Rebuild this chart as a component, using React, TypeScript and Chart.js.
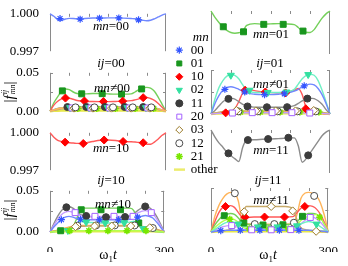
import React, { useEffect, useRef } from 'react';
import { Chart, registerables } from 'chart.js';

Chart.register(...registerables);

const SERIF = "'Liberation Serif', 'DejaVu Serif', 'Times New Roman', serif";

// ---------------- data ----------------
const tGrid = [0, 10, 20, 30, 40, 50, 60, 70, 80, 90, 110, 130, 150, 170, 190, 210, 220, 230, 240, 250, 260, 270, 280, 290, 300];
const xLabelTicks = [0, 300];
const xMinorTicks = [50, 100, 150, 200, 250];
const diagYTicks = [0.997, 1.0];
const diagYLabels = ['0.997', '1.000'];
const offYTicks = [0, 0.025, 0.05];
const offYLabels = ['0.00', '', '0.05'];
const legendNames = ['00', '01', '10', '02', '11', '20', '03', '12', '21', 'other'];

// diagonal panels (|f^ij_mn| with mn = ij)
const d00 = [1.0, 0.9998, 0.99955, 0.9995, 0.99958, 0.99963, 0.99962, 0.9996, 0.99958, 0.99962, 0.99966, 0.99966, 0.99967, 0.99967, 0.99965, 0.99962, 0.9996, 0.99955, 0.99948, 0.99944, 0.99948, 0.9996, 0.99975, 0.9999, 1.0];
const d00mx = [26, 78, 128, 178, 229];
const d00my = [0.99962, 0.99957, 0.99965, 0.99967, 0.99952];

const d01 = [1.0, 0.99955, 0.9992, 0.9989, 0.99865, 0.9985, 0.99845, 0.99848, 0.9986, 0.999, 0.99912, 0.99908, 0.9991, 0.99912, 0.9991, 0.99905, 0.99885, 0.9986, 0.99852, 0.9985, 0.9987, 0.9991, 0.9995, 0.9998, 1.0];
const d01mx = [31, 82, 133, 182, 232];
const d01my = [0.9989, 0.99855, 0.99907, 0.99907, 0.9986];

const d10 = [1.0, 0.99965, 0.9994, 0.9993, 0.99925, 0.9992, 0.99918, 0.99915, 0.99914, 0.99918, 0.9993, 0.9994, 0.99942, 0.99938, 0.9993, 0.99928, 0.99926, 0.99922, 0.99918, 0.99908, 0.99908, 0.99925, 0.9995, 0.9998, 1.0];
const d10mx = [39, 86, 140, 189, 241];
const d10my = [0.99925, 0.99914, 0.99942, 0.9993, 0.9992];

const d11 = [1.0, 0.9995, 0.9991, 0.9988, 0.99845, 0.9982, 0.998, 0.9978, 0.9988, 0.9993, 0.99932, 0.99935, 0.99937, 0.9994, 0.99943, 0.99945, 0.9989, 0.99775, 0.998, 0.9984, 0.9988, 0.9992, 0.9996, 0.99985, 1.0];
const d11mx = [44, 93, 144, 195, 245];
const d11my = [0.99837, 0.9993, 0.99937, 0.99946, 0.99823];

// ij = 00, mn != 00
const o00_01 = [0, 0.011, 0.019, 0.026, 0.029, 0.028, 0.025, 0.023, 0.0225, 0.0225, 0.023, 0.023, 0.0225, 0.0222, 0.0222, 0.0225, 0.025, 0.028, 0.03, 0.031, 0.03, 0.026, 0.018, 0.009, 0];
const o00_01mx = [32, 82, 135, 185, 237];
const o00_01my = [0.0265, 0.0226, 0.0228, 0.0222, 0.029];
const o00_10 = [0, 0.008, 0.013, 0.016, 0.0172, 0.0168, 0.0155, 0.014, 0.0133, 0.013, 0.0126, 0.0125, 0.0125, 0.0127, 0.013, 0.0138, 0.0148, 0.016, 0.0175, 0.0178, 0.0165, 0.014, 0.01, 0.005, 0];
const o00_10mx = [40, 89, 138, 188, 241];
const o00_10my = [0.0171, 0.0133, 0.0126, 0.0131, 0.0176];
const o00_11 = [0, 0.002, 0.0035, 0.0045, 0.005, 0.0052, 0.0054, 0.0055, 0.0055, 0.0055, 0.0055, 0.0055, 0.0055, 0.0055, 0.0055, 0.0055, 0.0055, 0.0055, 0.0054, 0.0052, 0.005, 0.0042, 0.0032, 0.0017, 0];
const o00_11mx = [45, 94, 142, 193, 241];
const o00_11my = [0.0054, 0.0055, 0.0055, 0.0055, 0.0054];
const o00_02 = [0, 0.0015, 0.003, 0.0038, 0.0042, 0.0044, 0.0045, 0.0045, 0.0045, 0.0045, 0.0045, 0.0045, 0.0045, 0.0045, 0.0045, 0.0045, 0.0045, 0.0045, 0.0045, 0.0044, 0.0042, 0.0036, 0.0027, 0.0014, 0];
const o00_02mx = [52, 101, 149, 200, 248];
const o00_02my = [0.0046, 0.0046, 0.0046, 0.0046, 0.0046];
const o00_20 = [0, 0.0012, 0.0025, 0.0033, 0.0037, 0.004, 0.0041, 0.0042, 0.0042, 0.0042, 0.0042, 0.0042, 0.0042, 0.0042, 0.0042, 0.0042, 0.0042, 0.0042, 0.0041, 0.004, 0.0037, 0.0032, 0.0024, 0.0012, 0];
const o00_20mx = [57, 106, 154, 205, 253];
const o00_20my = [0.0042, 0.0042, 0.0042, 0.0042, 0.0042];
const o00_03 = [0, 0.001, 0.002, 0.003, 0.0035, 0.0038, 0.0039, 0.004, 0.004, 0.004, 0.004, 0.004, 0.004, 0.004, 0.004, 0.004, 0.004, 0.004, 0.0039, 0.0038, 0.0035, 0.003, 0.0022, 0.0011, 0];
const o00_03mx = [62, 111, 159, 210, 258];
const o00_03my = [0.004, 0.004, 0.004, 0.004, 0.004];
const o00_12 = [0, 0.0016, 0.0032, 0.0042, 0.0047, 0.005, 0.005, 0.005, 0.005, 0.005, 0.005, 0.005, 0.005, 0.005, 0.005, 0.005, 0.005, 0.005, 0.005, 0.005, 0.0047, 0.004, 0.003, 0.0016, 0];
const o00_12mx = [66, 115, 163, 214, 262];
const o00_12my = [0.005, 0.005, 0.005, 0.005, 0.005];
const o00_21 = [0, 0.0011, 0.0022, 0.003, 0.0033, 0.0035, 0.0035, 0.0035, 0.0035, 0.0035, 0.0035, 0.0035, 0.0035, 0.0035, 0.0035, 0.0035, 0.0035, 0.0035, 0.0035, 0.0035, 0.0033, 0.0028, 0.0021, 0.0011, 0];
const o00_21mx = [72, 121, 169, 220, 268];
const o00_21my = [0.0035, 0.0035, 0.0035, 0.0035, 0.0035];
const o00_other = [0, 0.0005, 0.0007, 0.0008, 0.0008, 0.0008, 0.0008, 0.0008, 0.0008, 0.0008, 0.0008, 0.0008, 0.0008, 0.0008, 0.0008, 0.0008, 0.0008, 0.0008, 0.0008, 0.0008, 0.0008, 0.0008, 0.0007, 0.0005, 0];

// ij = 01, mn != 01
const o01_02 = [0, 0.017, 0.03, 0.038, 0.043, 0.045, 0.044, 0.04, 0.033, 0.027, 0.0245, 0.0245, 0.0245, 0.0245, 0.025, 0.028, 0.034, 0.04, 0.044, 0.045, 0.044, 0.038, 0.027, 0.014, 0];
const o01_02mx = [50, 97, 143, 190, 245];
const o01_02my = [0.044, 0.027, 0.0245, 0.025, 0.0448];
const o01_00 = [0, 0.012, 0.021, 0.027, 0.03, 0.031, 0.03, 0.028, 0.026, 0.024, 0.0225, 0.022, 0.022, 0.0225, 0.0235, 0.026, 0.028, 0.031, 0.033, 0.034, 0.033, 0.029, 0.022, 0.012, 0];
const o01_00mx = [35, 85, 135, 185, 235];
const o01_00my = [0.028, 0.025, 0.022, 0.023, 0.032];
const o01_10 = [0, 0.0005, 0.001, 0.0013, 0.0016, 0.0025, 0.006, 0.014, 0.024, 0.028, 0.0265, 0.025, 0.0245, 0.024, 0.0245, 0.027, 0.029, 0.022, 0.007, 0.004, 0.002, 0.001, 0.0005, 0.0002, 0];
const o01_10mx = [37, 86, 137, 188, 239];
const o01_10my = [0.0013, 0.027, 0.025, 0.024, 0.006];
const o01_11 = [0, 0.004, 0.009, 0.014, 0.017, 0.018, 0.017, 0.014, 0.011, 0.0088, 0.0078, 0.0077, 0.0077, 0.0077, 0.008, 0.0095, 0.012, 0.015, 0.017, 0.018, 0.0175, 0.015, 0.011, 0.005, 0];
const o01_11mx = [44, 92, 141, 192, 243];
const o01_11my = [0.0172, 0.0086, 0.0077, 0.0078, 0.0175];
const o01_20 = [0, 0.0004, 0.0007, 0.0009, 0.001, 0.0011, 0.0012, 0.0013, 0.0014, 0.0015, 0.0015, 0.0015, 0.0015, 0.0015, 0.0015, 0.0015, 0.0014, 0.0013, 0.0012, 0.0011, 0.001, 0.0009, 0.0007, 0.0004, 0];
const o01_20mx = [54, 104, 154, 204, 249];
const o01_20my = [0.0011, 0.0015, 0.0015, 0.0015, 0.0011];
const o01_03 = [0, 0.001, 0.002, 0.003, 0.0036, 0.004, 0.004, 0.0038, 0.0036, 0.0035, 0.0035, 0.0035, 0.0035, 0.0035, 0.0035, 0.0035, 0.0036, 0.0038, 0.004, 0.004, 0.0036, 0.003, 0.002, 0.001, 0];
const o01_03mx = [64, 113, 163, 213, 259];
const o01_03my = [0.004, 0.0035, 0.0035, 0.0035, 0.004];
const o01_12 = [0, 0.0008, 0.0016, 0.0024, 0.0028, 0.003, 0.003, 0.003, 0.003, 0.003, 0.003, 0.003, 0.003, 0.003, 0.003, 0.003, 0.003, 0.003, 0.003, 0.003, 0.0028, 0.0024, 0.0016, 0.0008, 0];
const o01_12mx = [69, 118, 168, 218, 264];
const o01_12my = [0.003, 0.003, 0.003, 0.003, 0.003];
const o01_21 = [0, 0.0006, 0.0012, 0.0017, 0.002, 0.0022, 0.0022, 0.0022, 0.0022, 0.0022, 0.0022, 0.0022, 0.0022, 0.0022, 0.0022, 0.0022, 0.0022, 0.0022, 0.0022, 0.0022, 0.002, 0.0017, 0.0012, 0.0006, 0];
const o01_21mx = [74, 124, 174, 224, 272];
const o01_21my = [0.0022, 0.0022, 0.0022, 0.0022, 0.0022];
const o01_other = [0, 0.0005, 0.0007, 0.0008, 0.0008, 0.0008, 0.0008, 0.0008, 0.0008, 0.0008, 0.0008, 0.0008, 0.0008, 0.0008, 0.0008, 0.0008, 0.0008, 0.0008, 0.0008, 0.0008, 0.0008, 0.0008, 0.0007, 0.0005, 0];

// ij = 10, mn != 10
const o10_11 = [0, 0.01, 0.019, 0.026, 0.03, 0.031, 0.029, 0.025, 0.021, 0.0195, 0.0185, 0.018, 0.018, 0.018, 0.0185, 0.0195, 0.022, 0.026, 0.029, 0.031, 0.03, 0.026, 0.019, 0.01, 0];
const o10_11mx = [43, 95, 147, 197, 250];
const o10_11my = [0.03, 0.0195, 0.018, 0.0182, 0.031];
const o10_20 = [0, 0.008, 0.015, 0.021, 0.024, 0.025, 0.024, 0.022, 0.02, 0.0192, 0.019, 0.019, 0.019, 0.019, 0.019, 0.0195, 0.021, 0.023, 0.025, 0.026, 0.025, 0.022, 0.016, 0.008, 0];
const o10_20mx = [66, 118, 168, 218, 266];
const o10_20my = [0.0235, 0.019, 0.019, 0.019, 0.0235];
const o10_00 = [0, 0.006, 0.011, 0.015, 0.018, 0.019, 0.018, 0.0165, 0.0155, 0.015, 0.0148, 0.0148, 0.0148, 0.0148, 0.015, 0.0155, 0.0165, 0.018, 0.019, 0.02, 0.019, 0.017, 0.012, 0.006, 0];
const o10_00mx = [30, 80, 130, 180, 230];
const o10_00my = [0.015, 0.0155, 0.0148, 0.0148, 0.018];
const o10_01 = [0, 0.0005, 0.001, 0.0015, 0.002, 0.003, 0.006, 0.016, 0.027, 0.029, 0.029, 0.029, 0.029, 0.029, 0.029, 0.029, 0.026, 0.014, 0.005, 0.002, 0.0015, 0.001, 0.0005, 0.0002, 0];
const o10_01mx = [28, 82, 134, 185, 233];
const o10_01my = [0.0015, 0.027, 0.027, 0.027, 0.011];
const o10_02 = [0, 0.0005, 0.001, 0.0015, 0.002, 0.003, 0.005, 0.01, 0.013, 0.012, 0.0115, 0.011, 0.011, 0.011, 0.0115, 0.012, 0.013, 0.01, 0.005, 0.003, 0.002, 0.0015, 0.001, 0.0005, 0];
const o10_02mx = [47, 95, 145, 195, 245];
const o10_02my = [0.0018, 0.012, 0.011, 0.0112, 0.004];
const o10_03 = [0, 0.001, 0.002, 0.003, 0.004, 0.005, 0.006, 0.0065, 0.007, 0.007, 0.0072, 0.0072, 0.0072, 0.0072, 0.0072, 0.0072, 0.007, 0.0068, 0.0065, 0.006, 0.005, 0.004, 0.003, 0.0015, 0];
const o10_03mx = [67, 117, 162, 212, 262];
const o10_03my = [0.0065, 0.0072, 0.0072, 0.0072, 0.0052];
const o10_12 = [0, 0.0012, 0.0025, 0.0038, 0.005, 0.006, 0.007, 0.0075, 0.0078, 0.008, 0.008, 0.008, 0.008, 0.008, 0.008, 0.008, 0.0078, 0.0075, 0.007, 0.0065, 0.0058, 0.0048, 0.0035, 0.0018, 0];
const o10_12mx = [72, 121, 170, 222, 270];
const o10_12my = [0.0076, 0.008, 0.008, 0.0079, 0.0048];
const o10_21 = [0, 0.0005, 0.001, 0.0013, 0.0015, 0.0016, 0.0016, 0.0016, 0.0016, 0.0016, 0.0016, 0.0016, 0.0016, 0.0016, 0.0016, 0.0016, 0.0016, 0.0016, 0.0016, 0.0016, 0.0015, 0.0013, 0.001, 0.0005, 0];
const o10_21mx = [52, 102, 152, 202, 252];
const o10_21my = [0.0016, 0.0016, 0.0016, 0.0016, 0.0016];
const o10_other = [0, 0.0005, 0.0007, 0.0008, 0.0008, 0.0008, 0.0008, 0.0008, 0.0008, 0.0008, 0.0008, 0.0008, 0.0008, 0.0008, 0.0008, 0.0008, 0.0008, 0.0008, 0.0008, 0.0008, 0.0008, 0.0008, 0.0007, 0.0005, 0];

// ij = 11, mn != 11
const o11_12 = [0, 0.018, 0.03, 0.038, 0.043, 0.045, 0.044, 0.035, 0.012, 0.0095, 0.009, 0.009, 0.009, 0.009, 0.009, 0.0095, 0.02, 0.038, 0.044, 0.045, 0.044, 0.041, 0.033, 0.019, 0];
const o11_12mx = [61, 112, 162, 212, 264];
const o11_12my = [0.044, 0.009, 0.009, 0.0105, 0.041];
const o11_10 = [0, 0.012, 0.022, 0.028, 0.03, 0.03, 0.028, 0.022, 0.017, 0.0165, 0.017, 0.017, 0.017, 0.017, 0.017, 0.0175, 0.022, 0.027, 0.029, 0.03, 0.029, 0.026, 0.02, 0.011, 0];
const o11_10mx = [37, 87, 137, 188, 240];
const o11_10my = [0.029, 0.0168, 0.017, 0.017, 0.029];
const o11_01 = [0, 0.008, 0.014, 0.018, 0.02, 0.021, 0.02, 0.016, 0.011, 0.009, 0.0085, 0.008, 0.008, 0.008, 0.0085, 0.009, 0.012, 0.016, 0.019, 0.021, 0.021, 0.02, 0.016, 0.009, 0];
const o11_01mx = [34, 84, 133, 184, 234];
const o11_01my = [0.0185, 0.0102, 0.008, 0.0082, 0.0178];
const o11_21 = [0, 0.005, 0.009, 0.012, 0.014, 0.015, 0.014, 0.011, 0.006, 0.004, 0.0035, 0.0035, 0.0035, 0.0035, 0.0035, 0.004, 0.008, 0.013, 0.016, 0.018, 0.019, 0.02, 0.016, 0.009, 0];
const o11_21mx = [48, 98, 148, 198, 278];
const o11_21my = [0.0145, 0.0038, 0.0035, 0.0035, 0.0168];
const o11_03 = [0, 0.0005, 0.001, 0.0015, 0.002, 0.003, 0.005, 0.01, 0.018, 0.029, 0.029, 0.029, 0.029, 0.029, 0.029, 0.026, 0.014, 0.005, 0.003, 0.002, 0.0015, 0.001, 0.0005, 0.0002, 0];
const o11_03mx = [85, 154, 209, 269];
const o11_03my = [0.023, 0.029, 0.024, 0.0008];
const o11_20 = [0, 0.002, 0.004, 0.006, 0.007, 0.0075, 0.007, 0.005, 0.003, 0.0025, 0.0025, 0.0025, 0.0025, 0.0025, 0.0025, 0.003, 0.005, 0.009, 0.013, 0.016, 0.017, 0.015, 0.011, 0.006, 0];
const o11_20mx = [53, 104, 154, 204, 254];
const o11_20my = [0.0073, 0.0025, 0.0025, 0.0027, 0.0165];
const o11_02 = [0, 0.003, 0.006, 0.009, 0.011, 0.012, 0.011, 0.009, 0.007, 0.006, 0.0058, 0.0058, 0.0058, 0.0058, 0.0058, 0.006, 0.007, 0.009, 0.011, 0.012, 0.011, 0.009, 0.006, 0.003, 0];
const o11_02mx = [70, 120, 170, 220, 270];
const o11_02my = [0.009, 0.0058, 0.0058, 0.007, 0.009];
const o11_00 = [0, 0.0008, 0.0012, 0.0015, 0.0018, 0.002, 0.002, 0.002, 0.002, 0.002, 0.002, 0.002, 0.002, 0.002, 0.002, 0.002, 0.002, 0.002, 0.002, 0.002, 0.0018, 0.0015, 0.0012, 0.0008, 0];
const o11_00mx = [25, 75, 125, 175, 225];
const o11_00my = [0.0015, 0.002, 0.002, 0.002, 0.002];
const o11_other = [0, 0.0005, 0.0007, 0.0008, 0.0008, 0.0008, 0.0008, 0.0008, 0.0008, 0.0008, 0.0008, 0.0008, 0.0008, 0.0008, 0.0008, 0.0008, 0.0008, 0.0008, 0.0008, 0.0008, 0.0008, 0.0008, 0.0007, 0.0005, 0];

// ---------------- styles ----------------
const OTHER_COLOR = '#e8e84a';
const STYLE: Record<string, any> = {
  '00': { line: '#7088ff', mark: '#3355ff', fill: '#3355ff', ps: 'star', r: 3.5, rot: 0, bw: 1.2 },
  '01': { line: '#74d05a', mark: '#19961e', fill: '#19961e', ps: 'rect', r: 4.2, rot: 0, bw: 1 },
  '10': { line: '#ff5a5a', mark: '#ff0000', fill: '#ff0000', ps: 'rectRot', r: 4, rot: 0, bw: 1 },
  '02': { line: '#6ff0c4', mark: '#33e0a0', fill: '#33e0a0', ps: 'triangle', r: 4, rot: 180, bw: 1 },
  '11': { line: '#8c8c8c', mark: '#3c3c3c', fill: '#3c3c3c', ps: 'circle', r: 3.5, rot: 0, bw: 1 },
  '20': { line: '#c59cff', mark: '#a461ff', fill: '#ffffff', ps: 'rect', r: 4.2, rot: 0, bw: 1 },
  '03': { line: '#c8aa6a', mark: '#9a7a28', fill: '#ffffff', ps: 'rectRot', r: 4, rot: 0, bw: 1 },
  '12': { line: '#ffb45a', mark: '#4a4a4a', fill: '#ffffff', ps: 'circle', r: 3.5, rot: 0, bw: 1 },
  '21': { line: '#b4ff50', mark: '#78e600', fill: '#78e600', ps: 'star', r: 3.5, rot: 0, bw: 1.6 },
};

type Series = { k: string; y: number[]; mx: number[]; my: number[] };
type PanelDef = { col: 'L' | 'R'; top: number; bottom: number; diag: boolean; showX: boolean; series: Series[]; other?: number[] };

const panels: PanelDef[] = [
  { col: 'L', top: 11, bottom: 54, diag: true, showX: false, series: [{ k: '00', y: d00, mx: d00mx, my: d00my }] },
  { col: 'R', top: 11, bottom: 54, diag: true, showX: false, series: [{ k: '01', y: d01, mx: d01mx, my: d01my }] },
  {
    col: 'L', top: 70, bottom: 114, diag: false, showX: false, other: o00_other, series: [
      { k: '12', y: o00_12, mx: o00_12mx, my: o00_12my },
      { k: '03', y: o00_03, mx: o00_03mx, my: o00_03my },
      { k: '20', y: o00_20, mx: o00_20mx, my: o00_20my },
      { k: '02', y: o00_02, mx: o00_02mx, my: o00_02my },
      { k: '21', y: o00_21, mx: o00_21mx, my: o00_21my },
      { k: '11', y: o00_11, mx: o00_11mx, my: o00_11my },
      { k: '10', y: o00_10, mx: o00_10mx, my: o00_10my },
      { k: '01', y: o00_01, mx: o00_01mx, my: o00_01my },
    ],
  },
  {
    col: 'R', top: 70, bottom: 114, diag: false, showX: false, other: o01_other, series: [
      { k: '20', y: o01_20, mx: o01_20mx, my: o01_20my },
      { k: '03', y: o01_03, mx: o01_03mx, my: o01_03my },
      { k: '12', y: o01_12, mx: o01_12mx, my: o01_12my },
      { k: '21', y: o01_21, mx: o01_21mx, my: o01_21my },
      { k: '11', y: o01_11, mx: o01_11mx, my: o01_11my },
      { k: '00', y: o01_00, mx: o01_00mx, my: o01_00my },
      { k: '02', y: o01_02, mx: o01_02mx, my: o01_02my },
      { k: '10', y: o01_10, mx: o01_10mx, my: o01_10my },
    ],
  },
  { col: 'L', top: 130, bottom: 173, diag: true, showX: false, series: [{ k: '10', y: d10, mx: d10mx, my: d10my }] },
  { col: 'R', top: 130, bottom: 173, diag: true, showX: false, series: [{ k: '11', y: d11, mx: d11mx, my: d11my }] },
  {
    col: 'L', top: 188, bottom: 232, diag: false, showX: true, other: o10_other, series: [
      { k: '21', y: o10_21, mx: o10_21mx, my: o10_21my },
      { k: '03', y: o10_03, mx: o10_03mx, my: o10_03my },
      { k: '12', y: o10_12, mx: o10_12mx, my: o10_12my },
      { k: '02', y: o10_02, mx: o10_02mx, my: o10_02my },
      { k: '00', y: o10_00, mx: o10_00mx, my: o10_00my },
      { k: '20', y: o10_20, mx: o10_20mx, my: o10_20my },
      { k: '01', y: o10_01, mx: o10_01mx, my: o10_01my },
      { k: '11', y: o10_11, mx: o10_11mx, my: o10_11my },
    ],
  },
  {
    col: 'R', top: 188, bottom: 232, diag: false, showX: true, other: o11_other, series: [
      { k: '00', y: o11_00, mx: o11_00mx, my: o11_00my },
      { k: '02', y: o11_02, mx: o11_02mx, my: o11_02my },
      { k: '20', y: o11_20, mx: o11_20mx, my: o11_20my },
      { k: '21', y: o11_21, mx: o11_21mx, my: o11_21my },
      { k: '01', y: o11_01, mx: o11_01mx, my: o11_01my },
      { k: '03', y: o11_03, mx: o11_03mx, my: o11_03my },
      { k: '10', y: o11_10, mx: o11_10mx, my: o11_10my },
      { k: '12', y: o11_12, mx: o11_12mx, my: o11_12my },
    ],
  },
];

// ---------------- plugin: frame with inward ticks ----------------
const framePlugin = {
  id: 'frame',
  beforeDatasetsDraw(chart: any, _args: any, opts: any) {
    const { ctx, chartArea: a, scales } = chart;
    ctx.save();
    ctx.strokeStyle = '#8a8a8a';
    ctx.lineWidth = 1;
    ctx.beginPath();
    const L = Math.round(a.left) + 0.5;
    const R = Math.round(a.right) - 0.5;
    ctx.moveTo(L, a.top);
    ctx.lineTo(L, a.bottom);
    ctx.moveTo(R, a.top);
    ctx.lineTo(R, a.bottom);
    if (opts.bottomLine) {
      ctx.moveTo(a.left, Math.round(a.bottom) - 0.5);
      ctx.lineTo(a.right, Math.round(a.bottom) - 0.5);
    }
    for (const v of opts.xTicks || []) {
      const x = Math.round(scales.x.getPixelForValue(v)) + 0.5;
      ctx.moveTo(x, a.top);
      ctx.lineTo(x, a.top + 3);
    }
    for (const v of opts.yTicks || []) {
      const y = Math.round(scales.y.getPixelForValue(v)) + 0.5;
      ctx.moveTo(a.left, y);
      ctx.lineTo(a.left + 3, y);
      ctx.moveTo(a.right, y);
      ctx.lineTo(a.right - 3, y);
    }
    ctx.stroke();
    ctx.restore();
  },
};

function buildConfig(p: PanelDef): any {
  const isL = p.col === 'L';
  const datasets: any[] = [];
  if (p.other) {
    datasets.push({
      label: 'other', data: tGrid.map((x, i) => ({ x, y: p.other![i] })),
      borderColor: OTHER_COLOR, borderWidth: 2.5, pointRadius: 0, order: 3, clip: 6, fill: false,
    });
  }
  for (const s of p.series) {
    const st = STYLE[s.k];
    datasets.push({
      label: s.k, data: tGrid.map((x, i) => ({ x, y: s.y[i] })),
      borderColor: st.line, borderWidth: 1.4, pointRadius: 0, cubicInterpolationMode: 'monotone',
      order: 2, clip: 6, fill: false,
    });
    datasets.push({
      label: s.k + ' markers', data: s.mx.map((x, i) => ({ x, y: s.my[i] })),
      showLine: false, pointStyle: st.ps, pointRadius: st.r, pointRotation: st.rot,
      pointBackgroundColor: st.fill, pointBorderColor: st.mark, pointBorderWidth: st.bw,
      order: 1, clip: 8,
    });
  }
  const yT = p.diag ? diagYTicks : offYTicks;
  const yL = p.diag ? diagYLabels : offYLabels;
  const xScale: any = {
    type: 'linear', min: 0, max: 300, display: p.showX,
    grid: { display: false }, border: { display: false },
    afterBuildTicks: (s: any) => { s.ticks = xLabelTicks.map((v) => ({ value: v })); },
    ticks: { autoSkip: false, maxRotation: 0, padding: 4, color: '#000', font: { family: SERIF, size: 13 } },
  };
  if (p.showX) xScale.afterFit = (s: any) => { s.height = 20; };
  const yScale: any = {
    type: 'linear', min: p.diag ? 0.997 : 0, max: p.diag ? 1.0 : 0.05, display: isL, position: 'left',
    grid: { display: false }, border: { display: false },
    afterBuildTicks: (s: any) => { s.ticks = yT.map((v) => ({ value: v })); },
    ticks: { autoSkip: false, padding: 3, color: '#000', font: { family: SERIF, size: 13 }, callback: (_v: any, i: number) => yL[i] },
  };
  if (isL) yScale.afterFit = (s: any) => { s.width = 50; };
  return {
    type: 'line',
    data: { datasets },
    plugins: [framePlugin],
    options: {
      responsive: false,
      animation: false,
      events: [],
      layout: { padding: { left: isL ? 0 : 12, right: 12, top: 8, bottom: p.showX ? 0 : 8 } },
      plugins: {
        legend: { display: false },
        tooltip: { enabled: false },
        frame: { xTicks: xMinorTicks, yTicks: p.diag ? [] : [0.025, 0.05], bottomLine: !p.diag },
      },
      scales: { x: xScale, y: yScale },
    },
  };
}

function PanelChart({ p }: { p: PanelDef }) {
  const ref = useRef<HTMLCanvasElement>(null);
  const isL = p.col === 'L';
  const left = isL ? 0 : 199;
  const width = isL ? 178 : 143;
  const top = p.top - 8;
  const height = p.bottom - p.top + 8 + (p.showX ? 20 : 8);
  useEffect(() => {
    const chart = new Chart(ref.current!, buildConfig(p));
    return () => chart.destroy();
  }, []);
  return <canvas ref={ref} width={width} height={height} style={{ position: 'absolute', left, top, width, height }} />;
}

function LegendChart() {
  const ref = useRef<HTMLCanvasElement>(null);
  useEffect(() => {
    const line = document.createElement('canvas');
    line.width = 12;
    line.height = 3;
    const lc = line.getContext('2d')!;
    lc.fillStyle = OTHER_COLOR;
    lc.fillRect(0, 0.5, 12, 2);
    const chart = new Chart(ref.current!, {
      type: 'line',
      data: { datasets: [] },
      options: {
        responsive: false,
        animation: false,
        events: [],
        layout: { padding: 0 },
        scales: { x: { display: false }, y: { display: false } },
        plugins: {
          tooltip: { enabled: false },
          legend: {
            display: true, position: 'left', align: 'start',
            title: { display: true, text: 'mn', color: '#000', padding: 0, font: { family: SERIF, size: 13, style: 'italic', lineHeight: 0.95 } },
            labels: {
              usePointStyle: true, boxWidth: 10, boxHeight: 5, padding: 0.3, color: '#000',
              font: { family: SERIF, size: 13 },
              generateLabels: () => legendNames.map((n, i) => {
                if (n === 'other') {
                  return { text: n, fillStyle: OTHER_COLOR, strokeStyle: OTHER_COLOR, lineWidth: 0, pointStyle: line, rotation: 0, hidden: false, datasetIndex: i, fontColor: '#000' };
                }
                const st = STYLE[n];
                return { text: n, fillStyle: st.fill, strokeStyle: st.mark, lineWidth: st.bw, pointStyle: st.ps, rotation: st.rot, hidden: false, datasetIndex: i, fontColor: '#000' };
              }),
            },
          },
        },
      } as any,
    });
    return () => chart.destroy();
  }, []);
  return <canvas ref={ref} width={110} height={160} style={{ position: 'absolute', left: 174, top: 31, width: 110, height: 160 }} />;
}

function Txt({ x, y, children, size = 13 }: { x: number; y: number; children: any; size?: number }) {
  return (
    <div style={{ position: 'absolute', left: x, top: y, transform: 'translate(-50%, -50%)', fontFamily: SERIF, fontSize: size, whiteSpace: 'nowrap', lineHeight: 1, color: '#000' }}>
      {children}
    </div>
  );
}

function YLabel({ y }: { y: number }) {
  return (
    <div style={{ position: 'absolute', left: 9, top: y, transform: 'translate(-50%, -50%) rotate(-90deg)', fontFamily: SERIF, fontSize: 15, whiteSpace: 'nowrap', lineHeight: 1, color: '#000', display: 'flex', alignItems: 'center' }}>
      <span>|</span><i>f</i>
      <span style={{ display: 'inline-flex', flexDirection: 'column', fontSize: 8, lineHeight: '8px', marginLeft: 1 }}>
        <i>ij</i><i>mn</i>
      </span>
      <span>|</span>
    </div>
  );
}

export default function App() {
  return (
    <div style={{ position: 'absolute', left: 0, top: 0, width: 348, height: 266, background: '#fff', overflow: 'hidden' }}>
      {panels.map((p, i) => <PanelChart key={i} p={p} />)}
      <LegendChart />
      <Txt x={111} y={24.5}><i>mn</i>=00</Txt>
      <Txt x={111} y={62}><i>ij</i>=00</Txt>
      <Txt x={271} y={33}><i>mn</i>=01</Txt>
      <Txt x={270} y={62}><i>ij</i>=01</Txt>
      <Txt x={112} y={87}><i>mn</i>≠00</Txt>
      <Txt x={271} y={83}><i>mn</i>≠01</Txt>
      <Txt x={111} y={146.5}><i>mn</i>=10</Txt>
      <Txt x={111} y={179}><i>ij</i>=10</Txt>
      <Txt x={271} y={148.5}><i>mn</i>=11</Txt>
      <Txt x={268} y={179}><i>ij</i>=11</Txt>
      <Txt x={113} y={203}><i>mn</i>≠10</Txt>
      <Txt x={271} y={198.5}><i>mn</i>≠11</Txt>
      <Txt x={108} y={256} size={14}>ω<sub style={{ fontSize: 9 }}>1</sub><i>t</i></Txt>
      <Txt x={268} y={256} size={14}>ω<sub style={{ fontSize: 9 }}>1</sub><i>t</i></Txt>
      <YLabel y={92} />
      <YLabel y={210} />
    </div>
  );
}
